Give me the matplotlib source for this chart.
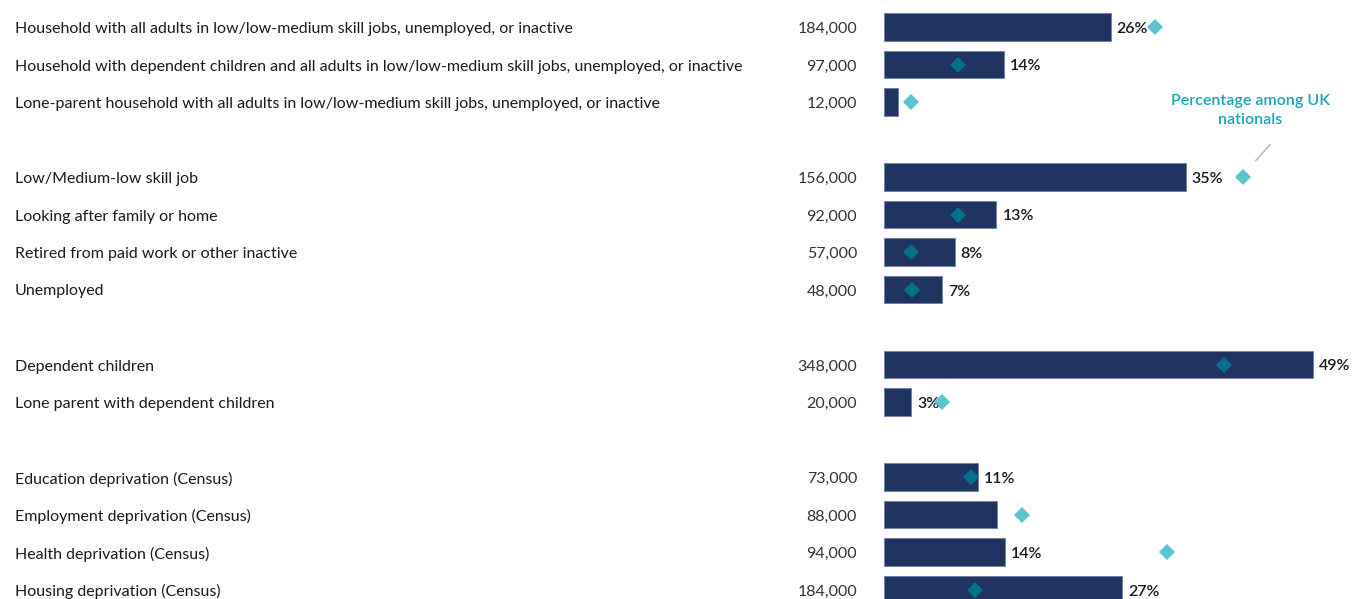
import matplotlib
matplotlib.use("Agg")
import matplotlib.pyplot as plt

# rows top to bottom, None = blank spacer row between groups
labels = [
    "Household with all adults in low/low-medium skill jobs, unemployed, or inactive",
    "Household with dependent children and all adults in low/low-medium skill jobs, unemployed, or inactive",
    "Lone-parent household with all adults in low/low-medium skill jobs, unemployed, or inactive",
    None,
    "Low/Medium-low skill job",
    "Looking after family or home",
    "Retired from paid work or other inactive",
    "Unemployed",
    None,
    "Dependent children",
    "Lone parent with dependent children",
    None,
    "Education deprivation (Census)",
    "Employment deprivation (Census)",
    "Health deprivation (Census)",
    "Housing deprivation (Census)",
]
counts = ["184,000", "97,000", "12,000", None, "156,000", "92,000", "57,000", "48,000",
          None, "348,000", "20,000", None, "73,000", "88,000", "94,000", "184,000"]
pct = [26.0, 13.8, 1.6, None, 34.6, 12.9, 8.1, 6.7, None, 49.2, 3.1, None, 10.8, 13.0, 13.9, 27.3]
pct_label = ["26%", "14%", None, None, "35%", "13%", "8%", "7%", None, "49%", "3%", None,
             "11%", None, "14%", "27%"]
uk_pct = [31.1, 8.5, 3.1, None, 41.2, 8.5, 3.1, 3.2, None, 39.0, 6.7, None, 10.0, 15.8, 32.4, 10.4]

navy = "#213361"
teal_light = "#5cc3d0"
teal_dark = "#03708c"
txt = "#1a1a1a"

W, H = 1352, 599
x0_px = 884.0      # pixel where 0% sits
px_per = 8.72      # pixels per percent
row0_px = 27.0
row_h = 37.5
dy = 2 / row_h     # small nudge so text sits on the bar centre

fig = plt.figure(figsize=(W / 100, H / 100), dpi=100)
ax = fig.add_axes([0, 0, 1, 1])
ax.set_xlim(-x0_px / px_per, (W - x0_px) / px_per)
ax.set_ylim((H - row0_px) / row_h, -row0_px / row_h)
ax.axis("off")

plt.rcParams["font.family"] = ["Lato", "DejaVu Sans"]
fs = 11.5

for i, lab in enumerate(labels):
    if lab is None:
        continue
    ax.barh(i, pct[i], height=0.73, left=0, color=navy, edgecolor="#6f7fa3", linewidth=0.6)
    ax.text(15 / W, i + dy, lab, transform=ax.get_yaxis_transform(), ha="left", va="center",
            fontsize=fs, color=txt)
    ax.text(857 / W, i + dy, counts[i], transform=ax.get_yaxis_transform(), ha="right", va="center",
            fontsize=fs, color="#333333")
    if pct_label[i]:
        ax.text(pct[i] + 6 / px_per, i + dy, pct_label[i], ha="left", va="center",
                fontsize=fs, color=txt, fontweight="semibold")
    c = teal_dark if uk_pct[i] < pct[i] else teal_light
    ax.plot(uk_pct[i], i, marker="D", markersize=8.5, color=c, markeredgewidth=0, zorder=5)

# annotation for the diamonds
ax.annotate("", xy=(uk_pct[4] + 1.2, 4 - 0.38), xytext=(uk_pct[4] + 3.3, 4 - 0.92),
            arrowprops=dict(arrowstyle="-", color="#bbbbbb", lw=1.2))
ax.text(uk_pct[4] + 0.8, 4 - 1.77, "Percentage among UK\nnationals", ha="center", va="center",
        fontsize=fs, color="#1ba3b9", linespacing=1.4, fontweight="semibold")

fig.savefig("out.png", dpi=100)
